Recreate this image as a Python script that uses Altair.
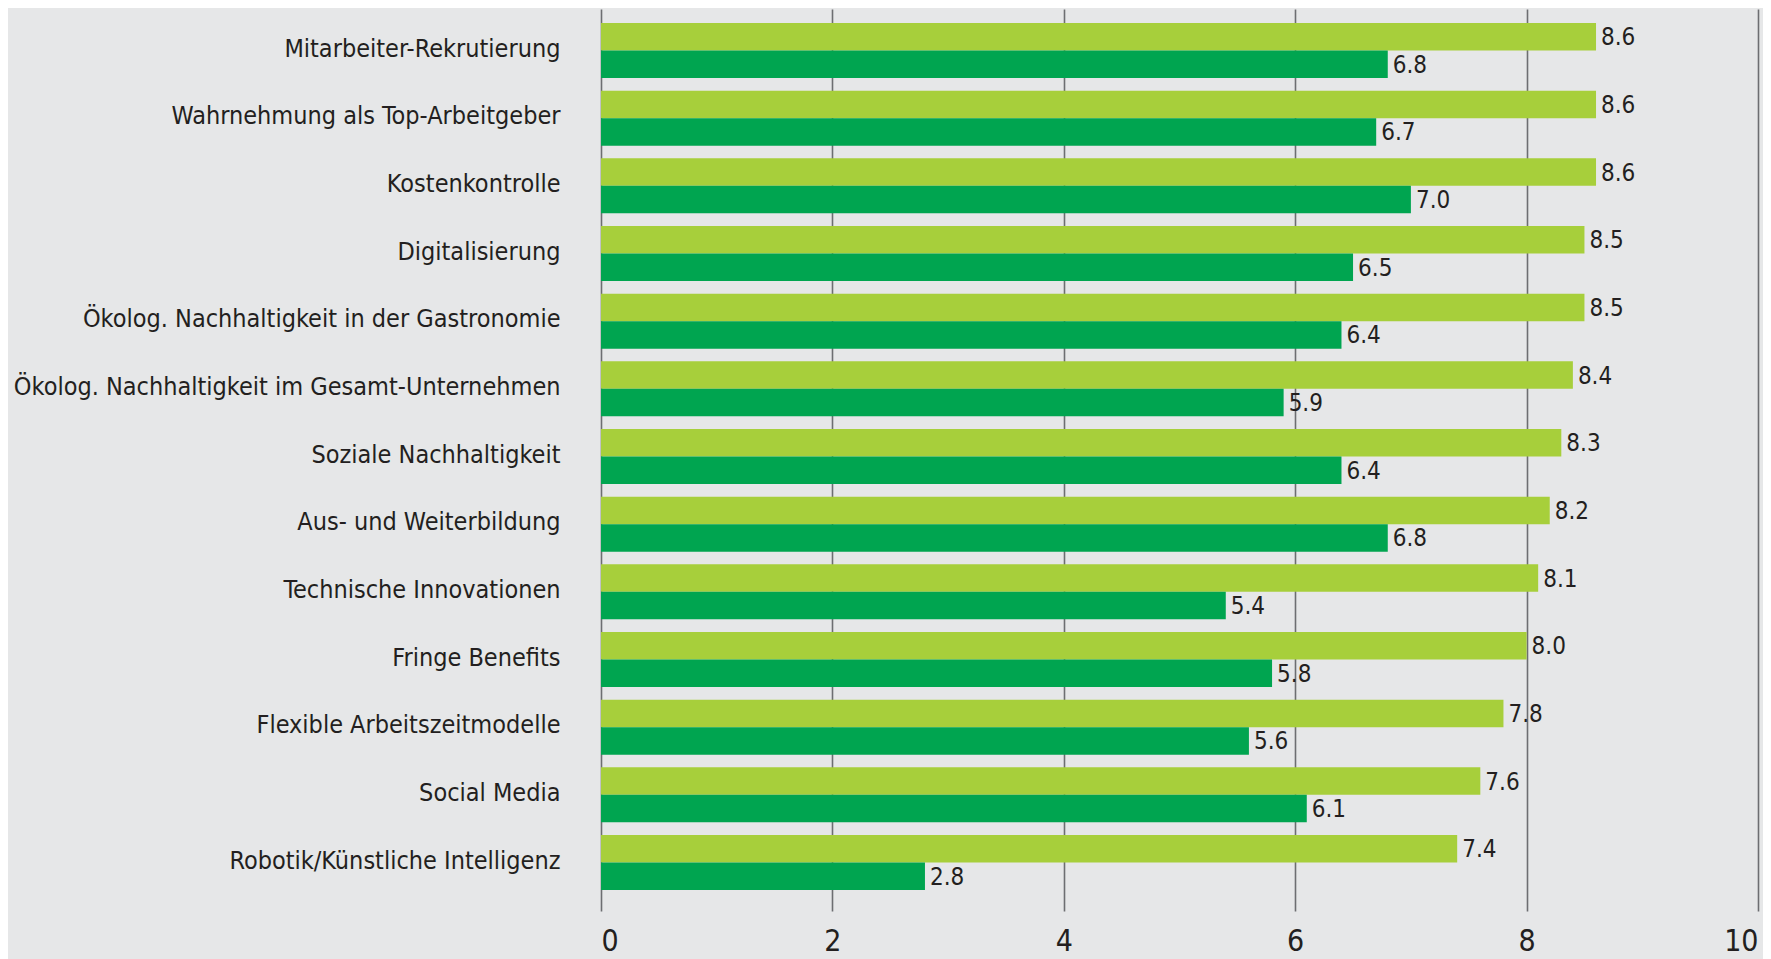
import altair as alt
import pandas as pd

categories = [
    "Mitarbeiter-Rekrutierung",
    "Wahrnehmung als Top-Arbeitgeber",
    "Kostenkontrolle",
    "Digitalisierung",
    "Ökolog. Nachhaltigkeit in der Gastronomie",
    "Ökolog. Nachhaltigkeit im Gesamt-Unternehmen",
    "Soziale Nachhaltigkeit",
    "Aus- und Weiterbildung",
    "Technische Innovationen",
    "Fringe Benefits",
    "Flexible Arbeitszeitmodelle",
    "Social Media",
    "Robotik/Künstliche Intelligenz",
]
series_names = ["Bedeutung", "Umsetzung"]
values_light = [8.6, 8.6, 8.6, 8.5, 8.5, 8.4, 8.3, 8.2, 8.1, 8.0, 7.8, 7.6, 7.4]
values_dark = [6.8, 6.7, 7.0, 6.5, 6.4, 5.9, 6.4, 6.8, 5.4, 5.8, 5.6, 6.1, 2.8]
x_ticks = [0, 2, 4, 6, 8, 10]
colors = ["#a7cf3b", "#00a550"]

rows = []
for c, a, b in zip(categories, values_light, values_dark):
    rows.append({"cat": c, "series": series_names[0], "value": a})
    rows.append({"cat": c, "series": series_names[1], "value": b})
df = pd.DataFrame(rows)

FONT = "DejaVu Sans Condensed, Liberation Sans Narrow, sans-serif"
TXT = "#231f20"

y_enc = alt.Y(
    "cat:N",
    sort=categories,
    scale=alt.Scale(paddingInner=0.187, paddingOuter=0.2585, align=0.4),
    axis=alt.Axis(
        title=None,
        domain=False,
        ticks=False,
        labelFont=FONT,
        labelFontSize=25,
        labelColor=TXT,
        labelPadding=41,
        labelOffset=-2,
        labelLimit=700,
    ),
)
yoff = alt.YOffset("series:N", sort=series_names, scale=alt.Scale(paddingInner=0, paddingOuter=0))
x_enc = alt.X(
    "value:Q",
    scale=alt.Scale(domain=[0, 10], nice=False, zero=True),
    axis=alt.Axis(
        title=None,
        values=x_ticks,
        format="d",
        domain=False,
        ticks=False,
        grid=True,
        gridColor="#6d6e71",
        gridWidth=1.6,
        labelFont=FONT,
        labelFontSize=30,
        labelColor=TXT,
        labelPadding=15,
        labelFlush=True,
    ),
)

bars = alt.Chart(df).mark_bar().encode(
    y=y_enc,
    yOffset=yoff,
    x=x_enc,
    color=alt.Color("series:N", sort=series_names,
                    scale=alt.Scale(domain=series_names, range=colors), legend=None),
)
labels = alt.Chart(df).mark_text(
    align="left", baseline="middle", dx=5, dy=1.5, font=FONT, fontSize=24, color=TXT
).encode(
    y=alt.Y("cat:N", sort=categories),
    yOffset=yoff,
    x="value:Q",
    text=alt.Text("value:Q", format=".1f"),
)

chart = (
    alt.layer(bars, labels)
    .properties(
        width=1157,
        height=902,
        autosize=alt.AutoSizeParams(type="none"),
        padding={"top": 1, "left": 593, "right": 5, "bottom": 48},
        background="#e6e7e8",
    )
    .configure_view(stroke=None)
)
chart.save("out.html", embed_options={"renderer": "svg", "actions": False})
